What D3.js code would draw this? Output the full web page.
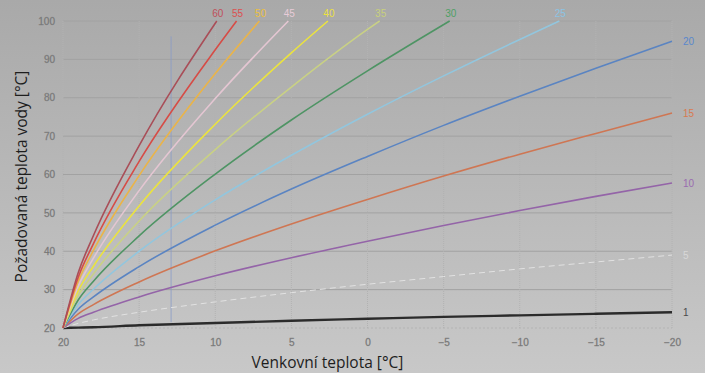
<!DOCTYPE html>
<html>
<head>
<meta charset="utf-8">
<script src="https://cdn.jsdelivr.net/npm/d3@7"></script>
<style>
  html, body { margin: 0; padding: 0; background: #b8b8b8; }
  svg { display: block; }
</style>
</head>
<body>
<div id="chart"></div>
<script>
const WIDTH = 705, HEIGHT = 373;

// outdoor temperature points (°C) where water temps were read
const outdoor = [20, 19, 18, 15, 10, 5, 0, -5, -10, -15, -20];
const curveLabels = ["1", "5", "10", "15", "20", "25", "30", "35", "40", "45", "50", "55", "60"];
// required water temperature per curve, aligned with `outdoor` (shorter when it hits 100)
const curveWater = [
    [20, 20.1, 20.2, 20.7, 21.3, 21.9, 22.4, 22.9, 23.3, 23.7, 24.1],
    [20, 21.2, 22.1, 24.1, 26.8, 29.2, 31.4, 33.4, 35.4, 37.2, 39.0],
    [20, 22.5, 24.1, 28.1, 33.6, 38.3, 42.6, 46.7, 50.6, 54.3, 57.8],
    [20, 23.7, 26.1, 32.0, 40.1, 47.1, 53.5, 59.6, 65.3, 70.7, 76.0],
    [20, 24.9, 28.1, 36.0, 46.8, 56.2, 64.7, 72.8, 80.4, 87.7, 94.7],
    [20, 26.1, 30.1, 40.0, 53.4, 65.0, 75.7, 85.7, 95.2],
    [20, 27.3, 32.2, 44.0, 60.1, 74.2, 87.0],
    [20, 28.5, 34.1, 47.9, 66.5, 82.8, 97.8],
    [20, 29.7, 36.1, 51.8, 73.1, 91.7],
    [20, 30.9, 38.2, 55.8, 79.8],
    [20, 32.1, 40.2, 59.7, 86.3],
    [20, 33.2, 42.0, 63.4, 92.5],
    [20, 34.4, 44.1, 67.5]
];
// outdoor temp where the curve reaches 100 °C (null = runs to -20)
const curveTopOut = [null, null, null, null, null, -12.6, -5.4, -0.8, 2.6, 5.2, 7.1, 8.6, 9.9];
const xTicks = [20, 15, 10, 5, 0, -5, -10, -15, -20];
const yTicks = [20, 30, 40, 50, 60, 70, 80, 90, 100];
const markerOut = 12.9;

const lineColors = ["#2b2b2b", "#e2e2e2", "#9464a8", "#cf7653", "#5a84c2", "#92c6de", "#4e9464",
    "#c9d184", "#ebe33e", "#e4c6d2", "#eab448", "#d64c46", "#a94e58"];
const labelColors = ["#4a4a4a", "#d8d8d8", "#9a6cb0", "#d87a50", "#5a88cc", "#8cc4e4", "#4fa066",
    "#c8d07c", "#ece040", "#e8ccd8", "#ecc040", "#dc5050", "#c0505a"];

const x = d3.scaleLinear().domain([20, -20]).range([63, 672]);
const y = d3.scaleLinear().domain([20, 100]).range([328, 21]);

const svg = d3.select("#chart")
    .append("svg")
    .attr("width", WIDTH)
    .attr("height", HEIGHT)

const grad = svg.append("defs").append("linearGradient")
    .attr("id", "bg").attr("x1", 0).attr("y1", 0).attr("x2", 0).attr("y2", 1)
grad.append("stop").attr("offset", "0%").attr("stop-color", "#a9a9a9")
grad.append("stop").attr("offset", "100%").attr("stop-color", "#c8c8c8")
svg.append("rect").attr("width", WIDTH).attr("height", HEIGHT).attr("fill", "url(#bg)")

// grid
svg.append("g").selectAll("line").data(yTicks).join("line")
    .attr("x1", x(20)).attr("x2", x(-20))
    .attr("y1", d => y(d)).attr("y2", d => y(d))
    .attr("stroke", d => d === 20 ? "#b4b4b4" : "#a2a2a2")
    .attr("stroke-dasharray", d => d === 20 ? "2,2" : null)
    .attr("stroke-width", 1)
svg.append("g").selectAll("line").data(xTicks).join("line")
    .attr("x1", d => x(d)).attr("x2", d => x(d))
    .attr("y1", y(100)).attr("y2", y(20))
    .attr("stroke", "#b2b2b2")
    .attr("stroke-dasharray", "1,1")

// faint blue cursor line
svg.append("line")
    .attr("x1", x(markerOut)).attr("x2", x(markerOut))
    .attr("y1", y(96)).attr("y2", y(21.5))
    .attr("stroke", "#8a9cc8").attr("stroke-width", 1).attr("opacity", 0.8)

// axes labels
const xAxis = svg.append("g")
    .attr("transform", `translate(0,${y(20) + 8})`)
    .call(d3.axisBottom(x).tickValues(xTicks).tickSize(0).tickFormat(d3.format("d")))
const yAxis = svg.append("g")
    .attr("transform", `translate(${x(20) - 5},0)`)
    .call(d3.axisLeft(y).tickValues(yTicks).tickSize(0))
svg.selectAll(".domain").remove()
svg.selectAll(".tick text")
    .attr("font-family", "Liberation Sans, Arial, sans-serif")
    .attr("font-size", 10)
    .attr("fill", "#6c6c6c")
    .attr("stroke", "#8a8a8a")
    .attr("stroke-width", 0.3)

const line = d3.line()
    .x(d => x(d[0]))
    .y(d => y(d[1]))
    .curve(d3.curveMonotoneX)

const series = curveWater.map((vals, i) => {
    const pts = vals.map((v, j) => [outdoor[j], v]);
    if (curveTopOut[i] !== null) pts.push([curveTopOut[i], 100]);
    return pts;
})

svg.append("g").selectAll("path").data(series).join("path")
    .attr("d", line)
    .attr("fill", "none")
    .attr("stroke", (d, i) => lineColors[i])
    .attr("stroke-width", (d, i) => i === 0 ? 2.4 : (i === 1 ? 1 : 1.6))
    .attr("stroke-dasharray", (d, i) => i === 1 ? "6,4" : null)

// curve labels
svg.append("g").selectAll("text").data(series).join("text")
    .attr("x", (d, i) => curveTopOut[i] !== null ? x(curveTopOut[i]) + 1 : x(-20) + 11)
    .attr("y", (d, i) => curveTopOut[i] !== null ? y(100) - 7 : y(d[d.length - 1][1]) + 1)
    .attr("text-anchor", (d, i) => curveTopOut[i] !== null ? "middle" : "start")
    .attr("dominant-baseline", "middle")
    .attr("font-family", "Liberation Sans, Arial, sans-serif")
    .attr("font-size", 10)
    .attr("fill", (d, i) => labelColors[i])
    .text((d, i) => curveLabels[i])

// titles
svg.append("text")
    .attr("x", (x(20) + x(-20)) / 2 - 40).attr("y", 368)
    .attr("text-anchor", "middle")
    .attr("font-family", "Open Sans, sans-serif")
    .attr("font-size", 15.5)
    .attr("fill", "#1e1e1e")
    .text("Venkovní teplota [°C]")
svg.append("text")
    .attr("transform", `translate(27,${(y(20) + y(100)) / 2 + 2}) rotate(-90)`)
    .attr("text-anchor", "middle")
    .attr("font-family", "Open Sans, sans-serif")
    .attr("font-size", 15.5)
    .attr("fill", "#1e1e1e")
    .text("Požadovaná teplota vody [°C]")
</script>
</body>
</html>
